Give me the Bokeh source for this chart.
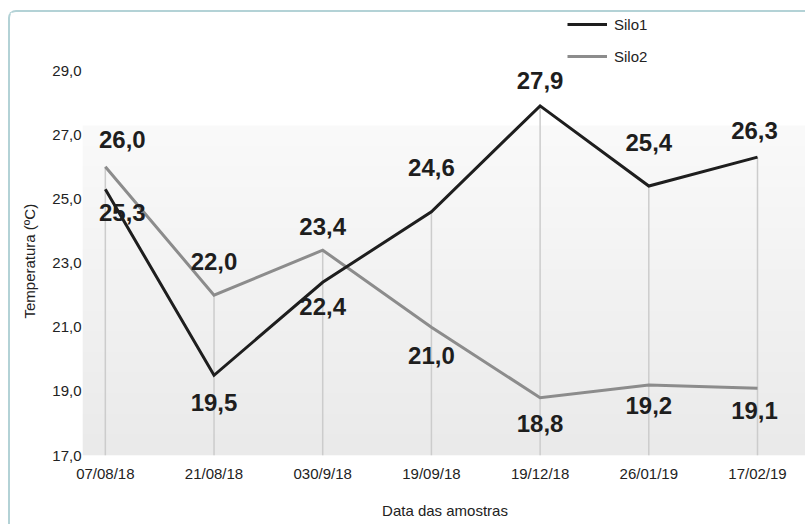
import numpy as np
from bokeh.plotting import figure
from bokeh.models import Range1d, FixedTicker, Legend, LegendItem, Title
from bokeh.core.properties import value
from bokeh.embed import file_html
from bokeh.resources import INLINE

# Sampling dates and mean temperatures per silo (ºC)
dates = ["07/08/18", "21/08/18", "030/9/18", "19/09/18", "19/12/18", "26/01/19", "17/02/19"]
silo1 = [25.3, 19.5, 22.4, 24.6, 27.9, 25.4, 26.3]
silo2 = [26.0, 22.0, 23.4, 21.0, 18.8, 19.2, 19.1]
y_ticks = [17, 19, 21, 23, 25, 27, 29]

# Styling
FONT = "Liberation Sans"
C1 = "#1e1e1e"
C2 = "#8c8c8c"
DROP = "#cccccc"
TEXT = "#222222"
SIZE = "15px"
PANEL_EDGE = "#b3d2d6"

# Pixel nudges for the value labels (x shared per column, y per point)
label_dx = [17, 0, 0, 0, 0, 0, -3]
label_dy1 = [23, 27, 24, -44, -25, -44, -27]
label_dy2 = [-27, -34, -24, 28, 26, 21, 22]

x = list(range(len(dates)))
x_lo, x_hi = -0.21, 6.46
y_lo, y_hi = 17.0, 30.81


def fmt(v):
    return f"{v:.1f}".replace(".", ",")


p = figure(width=797, height=514, output_backend="svg", toolbar_location=None,
           x_range=Range1d(x_lo, x_hi), y_range=Range1d(y_lo, y_hi),
           min_border_left=72, min_border_right=0, min_border_top=0,
           min_border_bottom=71)
# panel edge with a rounded top-left corner
p.styles = {
    "margin-left": "8px",
    "margin-top": "10px",
    "border-top": f"2px solid {PANEL_EDGE}",
    "border-left": f"2px solid {PANEL_EDGE}",
    "border-top-left-radius": "8px",
}
p.outline_line_color = None
p.background_fill_color = "white"
p.border_fill_color = "white"
p.xgrid.visible = False
p.ygrid.visible = False

# soft vertical gradient behind the lower part of the plot area
n = 256
grad = np.empty((n, 1), dtype=np.uint32)
view = grad.view(dtype=np.uint8).reshape((n, 1, 4))
t = np.linspace(0.0, 1.0, n)
bottom_rgb = np.array([234, 234, 234])
top_rgb = np.array([250, 250, 250])
rgb = (bottom_rgb[None, :] * (1 - t[:, None]) + top_rgb[None, :] * t[:, None]).astype(np.uint8)
view[:, 0, 0:3] = rgb
view[:, 0, 3] = 255
grad_top = 27.29
p.image_rgba(image=[grad], x=x_lo, y=y_lo, dw=x_hi - x_lo, dh=grad_top - y_lo, level="image")

# drop lines from the axis up to the higher of the two readings
tops = [max(a, b) for a, b in zip(silo1, silo2)]
p.segment(x0=x, y0=[y_lo] * len(x), x1=x, y1=tops, line_color=DROP, line_width=1.5)

r2 = p.line(x, silo2, line_color=C2, line_width=3, line_join="miter")
r1 = p.line(x, silo1, line_color=C1, line_width=3, line_join="miter")

for vals, dy in ((silo1, label_dy1), (silo2, label_dy2)):
    p.text(x=x, y=vals, text=[fmt(v) for v in vals], x_offset=label_dx, y_offset=dy,
           text_align="center", text_baseline="middle",
           text_font=value(FONT), text_font_style="bold", text_font_size="24px",
           text_color=C1)

# axes
p.xaxis.ticker = FixedTicker(ticks=x)
p.xaxis.major_label_overrides = {i: d for i, d in zip(x, dates)}
p.yaxis.ticker = FixedTicker(ticks=y_ticks)
p.yaxis.major_label_overrides = {t_: fmt(t_) for t_ in y_ticks}
p.xaxis.axis_label = "Data das amostras"
for ax in (p.xaxis, p.yaxis):
    ax.axis_line_color = None
    ax.major_tick_line_color = None
    ax.minor_tick_line_color = None
    ax.major_tick_out = 0
    ax.major_tick_in = 0
    ax.minor_tick_out = 0
    ax.major_label_text_font = FONT
    ax.major_label_text_font_size = SIZE
    ax.major_label_text_color = TEXT
    ax.axis_label_text_font = FONT
    ax.axis_label_text_font_size = SIZE
    ax.axis_label_text_font_style = "normal"
    ax.axis_label_text_color = TEXT
p.xaxis.major_label_standoff = 9
p.xaxis.axis_label_standoff = 17
p.yaxis.major_label_standoff = 1

# y-axis caption, centred on the labelled part of the scale
y_title = Title(text="Temperatura (ºC)", align="left", offset=137,
                vertical_align="top", standoff=20,
                text_font=FONT, text_font_size=SIZE, text_font_style="normal",
                text_color=TEXT)
p.add_layout(y_title, "left")

legend = Legend(items=[LegendItem(label="Silo1", renderers=[r1]),
                       LegendItem(label="Silo2", renderers=[r2])],
                location=(485, 389), orientation="vertical",
                padding=0, margin=0, spacing=12, glyph_width=40, glyph_height=20,
                label_standoff=7, label_height=20,
                label_text_font=FONT, label_text_font_size=SIZE,
                label_text_color=TEXT,
                background_fill_alpha=0, border_line_color=None)
p.add_layout(legend)

open("out.html", "w").write(file_html(p, INLINE))
